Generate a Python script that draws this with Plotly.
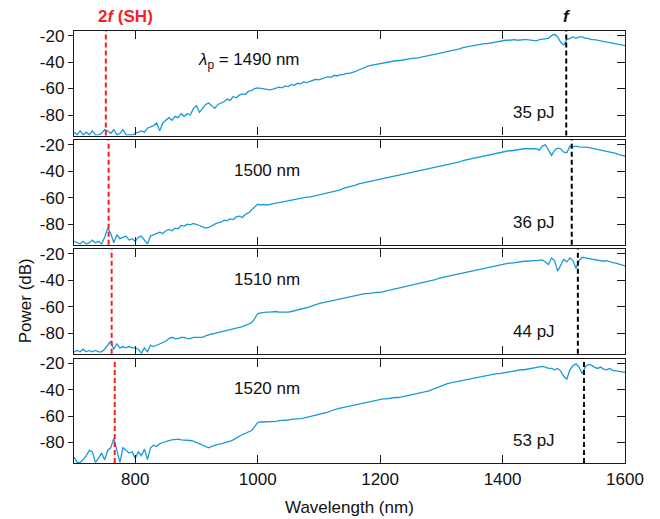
import plotly.graph_objects as go

# ---------------- data ----------------
wavelength = [
    700, 705, 710, 715, 720, 725, 730, 735, 740, 745, 750, 755, 760, 765, 770, 775,
    780, 785, 790, 795, 800, 805, 810, 815, 820, 825, 830, 835, 840, 845, 850,
    855, 860, 865, 870, 875, 880, 885, 890, 895, 900,
    905, 910, 915, 920, 925, 930, 935, 940, 945, 950,
    955, 960, 965, 970, 975, 980, 985, 990, 995, 1000,
    1005, 1010, 1015, 1020, 1025, 1030, 1035, 1040, 1045, 1050,
    1055, 1060, 1065, 1070, 1075, 1080, 1085, 1090, 1095, 1100,
    1105, 1110, 1115, 1120, 1125, 1130, 1135, 1140, 1145, 1150,
    1155, 1160, 1165, 1170, 1175, 1180, 1185, 1190, 1195, 1200,
    1205, 1210, 1215, 1220, 1225, 1230, 1235, 1240, 1245, 1250,
    1255, 1260, 1265, 1270, 1275, 1280, 1285, 1290, 1295, 1300,
    1305, 1310, 1315, 1320, 1325, 1330, 1335, 1340, 1345, 1350,
    1355, 1360, 1365, 1370, 1375, 1380, 1385, 1390, 1395, 1400,
    1405, 1410, 1415, 1420, 1425, 1430, 1435, 1440, 1445,
    1450, 1455, 1460, 1465, 1470, 1475, 1480, 1485, 1490, 1495, 1500, 1505, 1510, 1515, 1520,
    1525, 1530, 1535, 1540, 1545, 1550, 1555, 1560, 1565, 1570, 1575, 1580, 1585, 1590, 1595, 1600,
]

power_1490 = [
    -93, -95, -92, -95, -93, -95, -92, -95, -95, -94, -91, -92, -94, -91, -95, -94,
    -91, -95, -95, -95, -94, -93, -92, -93, -90, -89, -88, -86, -92, -86, -84,
    -82, -84, -81, -82, -79, -81, -79, -80, -75, -73,
    -78, -75, -72, -71, -73, -75, -72, -71, -70, -68,
    -69, -66, -67, -65, -64, -64.5, -62, -61.5, -60, -59.5,
    -60, -60.5, -60.5, -61, -60.5, -60, -59, -59.5, -58, -58.5,
    -57, -57.5, -56, -56.5, -55, -55.5, -54.5, -54, -53, -53.5,
    -52.5, -52, -51, -51.5, -50, -50.5, -49.5, -49.5, -48.5, -48.5,
    -48, -47, -46, -45, -43.5, -43, -42.5, -42, -41.5, -41,
    -40.5, -40, -40, -39.5, -39, -39, -38.5, -38, -37.5, -37.5,
    -37, -37, -36.5, -36, -35.5, -35, -34.5, -34, -33.5, -33,
    -33, -32.5, -31.5, -31, -30.5, -30, -29, -28.5, -28.5, -28,
    -27.5, -27, -26.5, -26, -26, -25.5, -25, -24.5, -24.5, -24,
    -23.5, -23.5, -23, -23, -23.5, -23, -23, -23, -23.5,
    -24, -24, -23, -22.5, -22, -22, -20, -19, -21, -25, -27, -23, -22, -21, -22,
    -21, -21, -22, -22, -23, -23, -23.5, -24, -24.5, -25, -25, -25.5, -26, -26.5, -27, -27.5,
]

power_1500 = [
    -93, -94, -95, -93, -95, -94, -92, -94, -93, -95, -90, -83, -87, -94, -88, -91,
    -90, -89, -92, -91, -93, -90, -89, -92, -95, -89, -88, -87, -86, -87, -85,
    -84, -85, -83, -83.5, -81, -81.5, -80, -80.5, -79.5, -80,
    -81, -82, -83, -82.5, -81, -80, -79, -78.5, -77, -77.5,
    -76, -76.5, -74.5, -74, -75, -72.5, -71.5, -69, -67, -65,
    -65.5, -65, -65.5, -65, -64.5, -64, -64, -63, -63, -62,
    -61.5, -61, -60.5, -60, -60, -59.5, -59.5, -59, -58.5, -58,
    -57.5, -57, -56.5, -56, -55.5, -55, -54, -53, -52.5, -52,
    -51, -50.5, -49.5, -49, -48.5, -48, -47.5, -47, -47, -46.5,
    -46, -45.5, -45, -44.5, -44, -43.5, -43, -42.5, -41.5, -41,
    -40.5, -40, -39.5, -39, -38.5, -38, -37.5, -37, -36.5, -36,
    -35.5, -35, -34.5, -34, -33.5, -33, -32, -31.5, -31, -30.5,
    -30, -29.5, -29, -28.5, -27.5, -27, -26.5, -26, -26, -25.5,
    -25, -24.5, -24.5, -24, -23.5, -23.5, -23, -23, -23,
    -23, -23, -24, -21, -20, -24, -28, -24, -22.5, -23, -25.5, -26, -21, -21.5, -21,
    -21.5, -21.5, -21.5, -22, -22.5, -23, -23, -24, -24, -25, -25.5, -26, -26.5, -27.5, -28, -28.5,
]

power_1510 = [
    -94, -93, -94, -92, -94, -93, -94, -93, -94, -94, -92, -89, -86, -92, -88, -91,
    -90, -91, -90, -91, -91, -92, -95, -91, -94, -89, -90, -89, -88, -87, -86,
    -84, -83, -84, -84, -83, -83, -84, -84, -83, -83,
    -83.5, -83, -82, -81, -80.5, -80, -79.5, -79, -78, -78,
    -77.5, -77, -76.5, -76, -75, -74, -73, -72, -69, -65,
    -64.5, -64, -64, -64, -63.5, -63.5, -64, -64, -64.5, -64,
    -63.5, -63, -62.5, -62, -61, -60.5, -60, -59, -58, -57.5,
    -57, -56.5, -56, -55.5, -54.5, -54, -53.5, -53, -52.5, -52,
    -51.5, -51, -51, -50.5, -50, -50, -49.5, -49.5, -49, -49,
    -48.5, -48, -47.5, -47, -46.5, -46, -45.5, -45, -44.5, -44,
    -43, -42.5, -42, -41.5, -41, -40.5, -40, -39.5, -38.5, -38,
    -37.5, -37, -36.5, -36, -35, -34.5, -34, -33.5, -33, -32.5,
    -32, -31.5, -31, -30.5, -30, -29.5, -29, -28.5, -28.5, -28,
    -27.5, -27, -27, -26.5, -26, -26, -25.5, -25.5, -25,
    -25, -25, -24.5, -24.5, -26, -28, -23, -25, -33, -28, -24, -26, -23, -25, -31,
    -25, -22.5, -23, -23.5, -24, -24.5, -24.5, -25, -25.5, -25, -26, -26.5, -27, -27.5, -28.5, -29,
]

power_1520 = [
    -91, -95, -95, -93, -90, -86, -87, -95, -92, -88, -93, -86, -84, -77, -86, -95,
    -84, -86, -88, -87, -92, -87, -90, -85, -93, -84, -82, -83, -81, -80, -79,
    -78.5, -78, -77.5, -77.5, -78, -78, -78, -78.5, -79, -80,
    -80.5, -81.5, -83, -84, -83, -82, -81.5, -81, -80.5, -80,
    -79, -78, -76.5, -75, -74, -73, -72, -71, -68, -65,
    -64.5, -64.5, -64, -64, -64, -64, -63.5, -63.5, -63, -63,
    -62.5, -62.5, -62, -62, -61.5, -61, -60.5, -60, -59.5, -59,
    -58, -57.5, -57, -56, -55, -54.5, -54, -53.5, -53, -52.5,
    -52, -51, -50.5, -50, -49.5, -49, -48.5, -48.5, -48, -47.5,
    -47, -47, -46.5, -46.5, -46, -46, -45.5, -45.5, -45, -44.5,
    -44, -43.5, -43, -42, -41.5, -41, -40, -39, -38, -37.5,
    -36.5, -35.5, -35, -34.5, -34, -33.5, -33, -32.5, -32, -31.5,
    -31, -30.5, -30, -30, -29.5, -29, -28.5, -28, -28, -27.5,
    -27, -27, -26.5, -26, -25.5, -25, -25, -24.5, -24,
    -24, -23.5, -23, -22.5, -23, -24, -24, -25, -24, -26, -30, -32, -25, -22, -20.5,
    -23, -28, -23, -21, -21.5, -23, -24, -23, -24.5, -25, -24, -25.5, -26, -26, -27, -27,
]

spectra = [power_1490, power_1500, power_1510, power_1520]
pump_labels = ["<i>λ</i><sub>p</sub> = 1490 nm", "1500 nm", "1510 nm", "1520 nm"]
energy_labels = ["35 pJ", "36 pJ", "44 pJ", "53 pJ"]
f_positions = [1504, 1513, 1523, 1533]      # fundamental (black dashed)
sh_positions = [752, 756.5, 761.5, 766.5]   # second harmonic (red dashed)

x_ticks = [800, 1000, 1200, 1400, 1600]
x_ticktext = ["800", "1000", "1200", "1400", "1600"]
y_ticks = [-20, -40, -60, -80]
y_ticktext = ["-20", "-40", "-60", "-80"]

# ---------------- layout helpers ----------------
W, H = 660, 519
L, R, T, B = 73.75, 625, 31, 463
panel_h = 104.5
gap = (B - T - 4 * panel_h) / 3
FONT = "Liberation Sans, Arial, Helvetica, sans-serif"
BLUE = "#1b9ad6"
RED = "#f41f1f"
AXC = "#1a1a1a"
YR = [-95.5, -16.5]


def px2paper_x(px):
    return (px - L) / (R - L)


def px2paper_y(py):
    return (B - py) / (B - T)


fig = go.Figure()
layout = dict(
    width=W, height=H,
    margin=dict(l=L, r=W - R, t=T, b=H - B, pad=0),
    plot_bgcolor="white", paper_bgcolor="white",
    font=dict(family=FONT, size=17, color="#111"),
    showlegend=False,
)

for i in range(4):
    n = i + 1
    top = T + i * (panel_h + gap)
    bot = top + panel_h
    dom = [px2paper_y(bot), px2paper_y(top)]
    xa = "x" if n == 1 else f"x{n}"
    ya = "y" if n == 1 else f"y{n}"
    yr_name = f"y{n + 4}"

    fig.add_trace(go.Scatter(
        x=wavelength, y=spectra[i], mode="lines",
        line=dict(color=BLUE, width=1.3),
        xaxis=xa, yaxis=ya, hoverinfo="skip",
    ))
    # invisible trace so the right-hand tick axis gets drawn
    fig.add_trace(go.Scatter(
        x=[None], y=[None], mode="lines", xaxis=xa, yaxis=yr_name,
        hoverinfo="skip",
    ))

    layout[f"xaxis{n if n > 1 else ''}"] = dict(
        domain=[0, 1], anchor=ya, range=[700, 1600],
        tickvals=x_ticks, ticktext=x_ticktext,
        ticks="inside", ticklen=8, tickwidth=1.3, tickcolor=AXC,
        showticklabels=(n == 4),
        showline=True, linecolor=AXC, linewidth=1.3, mirror="ticks",
        showgrid=False, zeroline=False,
        tickfont=dict(size=17),
        matches=None if n == 1 else "x",
    )
    layout[f"yaxis{n if n > 1 else ''}"] = dict(
        domain=dom, anchor=xa, range=YR,
        tickvals=y_ticks, ticktext=y_ticktext,
        ticks="outside", ticklen=5, tickwidth=1.3, tickcolor=AXC,
        showline=True, linecolor=AXC, linewidth=1.3, mirror=True,
        showgrid=False, zeroline=False,
        tickfont=dict(size=17),
        ticklabelstandoff=0,
    )
    layout[f"yaxis{n + 4}"] = dict(
        overlaying=ya, anchor=xa, side="right", range=YR,
        tickvals=y_ticks, ticks="inside", ticklen=8, tickwidth=1.3,
        tickcolor=AXC, showticklabels=False, showline=False,
        showgrid=False, zeroline=False,
    )

    # dashed markers
    fig.add_shape(type="line", xref=xa, yref=f"{ya} domain",
                  x0=sh_positions[i], x1=sh_positions[i], y0=0, y1=1,
                  line=dict(color=RED, width=2, dash="5px,3px"))
    fig.add_shape(type="line", xref=xa, yref=f"{ya} domain",
                  x0=f_positions[i], x1=f_positions[i], y0=0, y1=1,
                  line=dict(color="black", width=2, dash="5px,3px"))

    # labels
    lab_y = top + (61 - 31)
    lab_x = 249 if i == 0 else 267
    fig.add_annotation(
        xref="paper", yref="paper", x=px2paper_x(lab_x), y=px2paper_y(lab_y),
        text=pump_labels[i],
        showarrow=False, font=dict(size=17, color="#111"),
        xanchor="center", yanchor="middle")
    fig.add_annotation(
        xref="paper", yref="paper", x=px2paper_x(534), y=px2paper_y(top + 82),
        text=energy_labels[i], showarrow=False,
        font=dict(size=17, color="#111"), xanchor="center", yanchor="middle")

fig.update_layout(**layout)

# header labels
fig.add_annotation(xref="paper", yref="paper", x=px2paper_x(125), y=px2paper_y(17),
                   text="<b>2<i>f</i> (SH)</b>", showarrow=False,
                   font=dict(size=17, color=RED), xanchor="center", yanchor="middle")
fig.add_annotation(xref="paper", yref="paper", x=px2paper_x(567), y=px2paper_y(17),
                   text="<b><i>f</i></b>", showarrow=False,
                   font=dict(size=17, color="#111"), xanchor="center", yanchor="middle")
# axis titles
fig.add_annotation(xref="paper", yref="paper", x=px2paper_x(349), y=px2paper_y(507),
                   text="Wavelength (nm)", showarrow=False,
                   font=dict(size=17, color="#111"), xanchor="center", yanchor="middle")
fig.add_annotation(xref="paper", yref="paper", x=px2paper_x(25), y=px2paper_y(301),
                   text="Power (dB)", textangle=-90, showarrow=False,
                   font=dict(size=17, color="#111"), xanchor="center", yanchor="middle")

fig.write_html("out.html",
               config={"displayModeBar": False},
               post_script="document.body.style.margin='0px';"
                           "document.body.style.padding='0px';")
